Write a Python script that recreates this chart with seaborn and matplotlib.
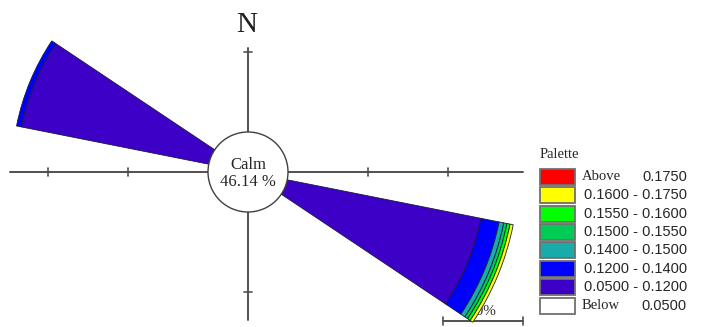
import numpy as np
import matplotlib
matplotlib.use('Agg')
import matplotlib.pyplot as plt
from matplotlib.patches import Wedge, Circle, Rectangle
import seaborn as sns

# --------------------------
# data
# --------------------------
calm_pct = 46.14
scale_pct = 10

bin_labels = ['Below', '0.0500 - 0.1200', '0.1200 - 0.1400', '0.1400 - 0.1500',
              '0.1500 - 0.1550', '0.1550 - 0.1600', '0.1600 - 0.1750', 'Above']
bin_colors = ['#FFFFFF', '#3D00C6', '#0000FF', '#19AAAA',
              '#00CC55', '#00FF00', '#FFFF00', '#FF0000']

directions = ['ESE', 'WNW']
dir_angles = [112.5, 292.5]          # compass degrees
freq_ese = [0.0, 24.7, 2.3, 0.6, 0.4, 0.4, 0.4, 0.0]
freq_wnw = [0.0, 23.9, 0.6, 0.0, 0.0, 0.0, 0.0, 0.0]
freqs = [freq_ese, freq_wnw]

# --------------------------
# setup
# --------------------------
sns.set_style('white')
plt.rcParams['font.family'] = ['Liberation Serif', 'DejaVu Serif']
palette = sns.color_palette(bin_colors)

PX = 8.0          # pixels per percent unit
CX, CY = 248, 172  # centre of the rose, pixels from top-left
W, H = 702, 327
calm_r = 5.0      # radius of calm circle in units


def px(x, y):
    return (x - CX) / PX, (CY - y) / PX


fig = plt.figure(figsize=(W / 100, H / 100), dpi=100)
ax = fig.add_axes([0, 0, 1, 1])
ax.set_xlim(-CX / PX, (W - CX) / PX)
ax.set_ylim(-(H - CY) / PX, CY / PX)
ax.set_aspect('equal')
ax.axis('off')

axis_col = '#505050'

# cross axes
x0, _ = px(10, 0)
x1, _ = px(523, 0)
_, y0 = px(0, 48)
_, y1 = px(0, 320)
ax.plot([x0, x1], [0, 0], color=axis_col, lw=1.4, zorder=1)
ax.plot([0, 0], [y1, y0], color=axis_col, lw=1.4, zorder=1)
for r in [calm_r + scale_pct, calm_r + 2 * scale_pct]:
    for s in [-1, 1]:
        ax.plot([s * r, s * r], [-0.5, 0.5], color=axis_col, lw=1.2, zorder=1)
ax.plot([-0.5, 0.5], [calm_r + scale_pct] * 2, color=axis_col, lw=1.2, zorder=1)
ax.plot([-0.5, 0.5], [-(calm_r + scale_pct)] * 2, color=axis_col, lw=1.2, zorder=1)

# N label
nx, ny = px(247, 25)
ax.text(nx, ny, 'N', fontsize=21, ha='center', va='center', color='#202020')

# scale bar
sx0, sy = px(443, 321)
sx1 = sx0 + scale_pct
ax.plot([sx0, sx1], [sy, sy], color=axis_col, lw=1.4, zorder=1)
for xx in [sx0, sx1]:
    ax.plot([xx, xx], [sy - 0.5, sy + 0.5], color=axis_col, lw=1.2, zorder=1)
ax.text((sx0 + sx1) / 2, sy + 1.2, f'{scale_pct}%', fontsize=11, ha='center',
        va='center', color='#303030', zorder=1)

# petals
for ang, vals in zip(dir_angles, freqs):
    math_ang = 90 - ang
    t1, t2 = math_ang - 11.25, math_ang + 11.25
    r = calm_r
    for v, c in zip(vals, palette):
        if v <= 0:
            continue
        ax.add_patch(Wedge((0, 0), r + v, t1, t2, width=v, facecolor=c,
                           edgecolor='#1a1a40', lw=0.6, zorder=3))
        r += v

# calm circle
ax.add_patch(Circle((0, 0), calm_r, facecolor='white', edgecolor='#404040',
                    lw=1.0, zorder=5))
ax.text(0, 0.9, 'Calm', fontsize=12, ha='center', va='center', zorder=6)
ax.text(0, -1.3, f'{calm_pct:.2f} %', fontsize=12, ha='center', va='center', zorder=6)

# palette legend
lx, ly = px(540, 155)
ax.text(lx, ly, 'Palette', fontsize=10.5, ha='left', va='center')
row_y0, pitch = 177, 18.36
for i, (lab, c) in enumerate(zip(bin_labels[::-1], list(palette)[::-1])):
    bx, by = px(540, row_y0 + i * pitch + 8)
    ax.add_patch(Rectangle((bx, by), 35 / PX, 16 / PX, facecolor=c,
                           edgecolor='#707070', lw=1.3, zorder=2))
    tx, ty = px(582, row_y0 + i * pitch)
    rx, _ = px(687, 0)
    if lab == 'Above':
        ax.text(tx, ty, 'Above', fontsize=10.5, ha='left', va='center')
        ax.text(rx, ty, '0.1750', fontsize=10.5, ha='right', va='center',
                family=['Liberation Sans', 'DejaVu Sans'])
    elif lab == 'Below':
        ax.text(tx, ty, 'Below', fontsize=10.5, ha='left', va='center')
        ax.text(rx, ty, '0.0500', fontsize=10.5, ha='right', va='center',
                family=['Liberation Sans', 'DejaVu Sans'])
    else:
        ax.text(rx, ty, lab, fontsize=10.5, ha='right', va='center',
                family=['Liberation Sans', 'DejaVu Sans'])

fig.savefig('out.png', dpi=100)
